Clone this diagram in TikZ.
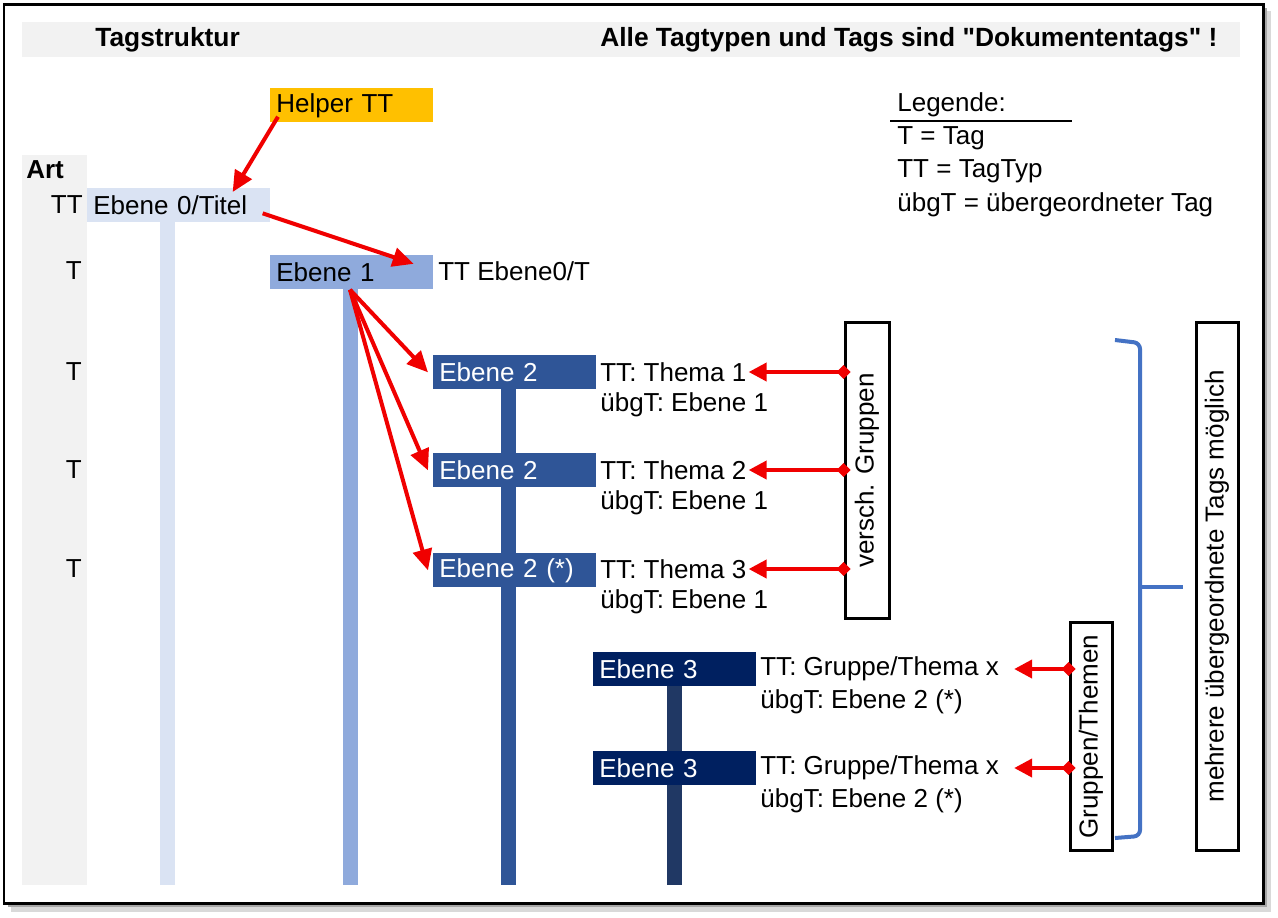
\documentclass[tikz,border=0pt]{standalone}
\usepackage{fontspec}
\setmainfont{Liberation Sans}[Ligatures=TeXOff]
\usetikzlibrary{arrows.meta,positioning}

\definecolor{band}{HTML}{F2F2F2}
\definecolor{helper}{HTML}{FFC000}
\definecolor{lvl0}{HTML}{DAE3F3}
\definecolor{lvl1}{HTML}{8FAADC}
\definecolor{lvl2}{HTML}{2F5597}
\definecolor{lvl3}{HTML}{002060}
\definecolor{bar3}{HTML}{203864}
\definecolor{linkred}{HTML}{F00000}
\definecolor{bracket}{HTML}{4472C4}

\newcommand{\tagfont}{\fontsize{14.8}{17}\selectfont}
\newcommand{\headfont}{\fontsize{15}{18}\selectfont\bfseries}

\tikzset{
  tagbox/.style={fill=#1, anchor=north west, minimum height=0.68cm,
    text width=3.02cm, inner xsep=0.12cm, inner ysep=0pt, align=left},
  lvlbar/.style={line width=0.3cm, draw=#1},
  rowlabel/.style={anchor=east, inner sep=0pt},
  tagtext/.style={anchor=west, inner sep=0pt},
  grpbox/.style={draw, line width=0.06cm, inner sep=0pt},
  redarrow/.style={draw=linkred, line width=0.08cm,
    -{Triangle[length=0.42cm,width=0.38cm]}},
  linkarrow/.style={draw=linkred, line width=0.08cm, shorten <=-0.14cm,
    {Diamond[length=0.28cm,width=0.28cm]}-{Triangle[length=0.36cm,width=0.36cm]}},
  bracketline/.style={draw=bracket, line width=0.08cm}
}

\begin{document}
\begin{tikzpicture}[x=0.02cm, y=-0.02cm, font=\tagfont]
\useasboundingbox (0,0) rectangle (1278,917);

% frame with shadow
\fill[black!15] (11,11) rectangle (1271,912);
\fill[black!35] (8,8) rectangle (1267,907);
\draw[line width=0.06cm, fill=white] (4,4) rectangle (1263,903);

% grey bands
\fill[band] (22,22) rectangle (1240,57);
\fill[band] (22,155) rectangle (87,885);
\node[tagtext, font=\headfont] (title) at (95,40) {Tagstruktur};
\node[tagtext, font=\headfont] (note) at (600,40) {Alle Tagtypen und Tags sind "Dokumententags" !};

% row labels
\node[tagtext, font=\tagfont\bfseries] (art) at (26,170) {Art};
\node[rowlabel] (r0) at (83,205) {TT};
\node[rowlabel] (r1) at (82,271) {T};
\node[rowlabel] (r2) at (82,372) {T};
\node[rowlabel] (r3) at (82,470) {T};
\node[rowlabel] (r4) at (82,569) {T};

% level bars
\draw[lvlbar=lvl0] (167.5,222) -- (167.5,885);
\draw[lvlbar=lvl1] (350.5,288) -- (350.5,885);
\draw[lvlbar=lvl2] (508,388) -- (508,885);
\draw[lvlbar=bar3] (674.5,686) -- (674.5,885);

% tag boxes
\node[tagbox=helper] (helper) at (270,88) {Helper TT};
\node[tagbox=lvl0, text width=3.42cm] (e0) at (87,188) {Ebene 0/Titel};
\node[tagbox=lvl1] (e1) at (270,255) {Ebene 1};
\node[tagbox=lvl2, text=white] (e2a) at (433,355) {Ebene 2};
\node[tagbox=lvl2, text=white] (e2b) at (433,453) {Ebene 2};
\node[tagbox=lvl2, text=white] (e2c) at (433,553) {Ebene 2 (*)};
\node[tagbox=lvl3, text=white] (e3a) at (593,652) {Ebene 3};
\node[tagbox=lvl3, text=white] (e3b) at (593,751) {Ebene 3};

% texts beside the boxes
\node[tagtext] (e1tt) at (438,271) {TT Ebene0/T};
\node[tagtext] (th1) at (600,372) {TT: Thema 1};
\node[tagtext] (ub1) at (600,405) {übgT: Ebene 1};
\node[tagtext] (th2) at (600,470) {TT: Thema 2};
\node[tagtext] (ub2) at (600,503) {übgT: Ebene 1};
\node[tagtext] (th3) at (600,569) {TT: Thema 3};
\node[tagtext] (ub3) at (600,602) {übgT: Ebene 1};
\node[tagtext] (gx1) at (760,669) {TT: Gruppe/Thema x};
\node[tagtext] (ug1) at (760,702) {übgT: Ebene 2 (*)};
\node[tagtext] (gx2) at (760,768) {TT: Gruppe/Thema x};
\node[tagtext] (ug2) at (760,801) {übgT: Ebene 2 (*)};

% legend
\node[tagtext] (leg) at (897,105) {Legende:};
\draw[line width=0.03cm] (890,121) -- (1072,121);
\node[tagtext] (legt) at (897,138) {T = Tag};
\node[tagtext] (legtt) at (897,171) {TT = TagTyp};
\node[tagtext] (legu) at (897,205) {übgT = übergeordneter Tag};

% group boxes
\node[grpbox, minimum width=0.88cm, minimum height=5.94cm] (vg) at (867,470.5) {\rotatebox{90}{versch. Gruppen}};
\node[grpbox, minimum width=0.84cm, minimum height=4.58cm] (gt) at (1091,736.5) {\rotatebox{90}{Gruppen/Themen}};
\node[grpbox, minimum width=0.84cm, minimum height=10.58cm] (mt) at (1217,586.5) {\rotatebox{90}{mehrere übergeordnete Tags möglich}};

% bracket
\draw[bracketline, rounded corners=0.12cm] (1115,340) -- (1140,343) -- (1140,836) -- (1115,838);
\draw[bracketline] (1140,587) -- (1183,587);

% arrows
\draw[redarrow] ([xshift=0.16cm,yshift=0.12cm]helper.south west) -- ([xshift=-0.76cm,yshift=-0.08cm]e0.north east);
\draw[redarrow] ([xshift=-0.16cm,yshift=-0.16cm]e0.east) -- ([xshift=-0.4cm,yshift=0.17cm]e1.east);
\draw[redarrow] ([xshift=1.6cm]e1.south west) -- ([xshift=-0.1cm]e2a.west);
\draw[redarrow] ([xshift=1.6cm]e1.south west) -- ([xshift=-0.1cm]e2b.west);
\draw[redarrow] ([xshift=1.6cm]e1.south west) -- ([xshift=-0.1cm]e2c.west);

\draw[linkarrow] (vg.west |- th1.east) -- ([xshift=0.04cm]th1.east);
\draw[linkarrow] (vg.west |- th2.east) -- ([xshift=0.04cm]th2.east);
\draw[linkarrow] (vg.west |- th3.east) -- ([xshift=0.04cm]th3.east);
\draw[linkarrow] (gt.west |- gx1.east) -- ([xshift=0.3cm]gx1.east);
\draw[linkarrow] (gt.west |- gx2.east) -- ([xshift=0.3cm]gx2.east);
\end{tikzpicture}
\end{document}
